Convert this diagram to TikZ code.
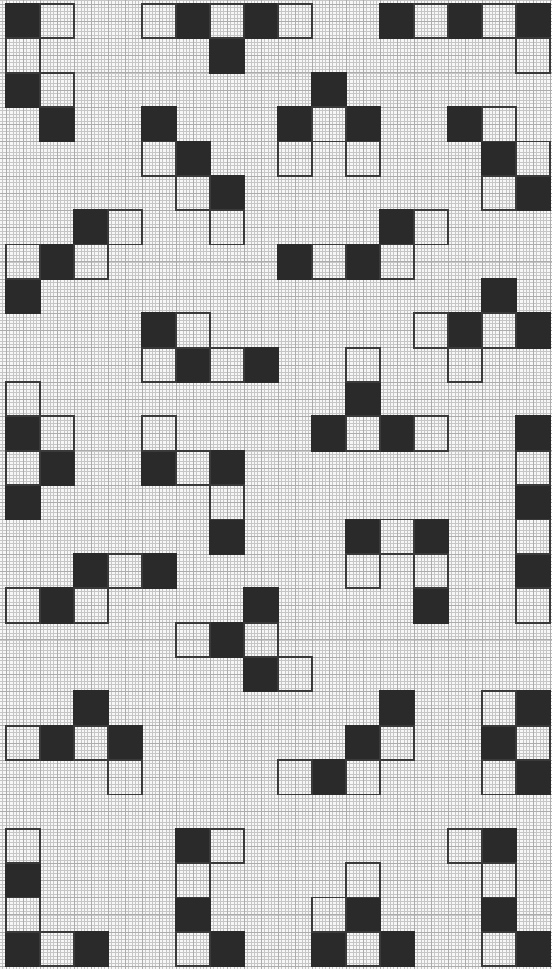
\documentclass[tikz,border=0pt]{standalone}
\usepackage{tikz}
\usepackage{xcolor}
\definecolor{paper}{HTML}{F7F7F7}
\definecolor{ink}{HTML}{2A2A2A}
\definecolor{rule}{HTML}{3A3A3A}

\begin{document}
\begin{tikzpicture}[x=0.85cm, y=-0.859cm,
    fine/.style={draw=gray!45, line width=0.3pt},
    half/.style={draw=gray!65, line width=0.4pt},
    blk/.style={fill=ink, draw=ink, line width=1.3pt},
    wht/.style={draw=rule, line width=1.3pt}]
  \useasboundingbox[fill=paper] (-0.176,-0.116) rectangle (16.03,28.08);
  \foreach \i in {-2,...,161}
    \draw[fine] (\i/10,-0.2) -- (\i/10,28.2);
  \foreach \j in {-2,...,281}
    \draw[fine] (-0.2,\j/10) -- (16.1,\j/10);
  \foreach \i in {0,5,...,160}
    \draw[half] (\i/10,-0.2) -- (\i/10,28.2);
  \foreach \j in {0,5,...,280}
    \draw[half] (-0.2,\j/10) -- (16.1,\j/10);

  % row one
  \foreach \c/\r in {0/0,0/2,1/3} \draw[blk] (\c,\r) rectangle ++(1,1);
  \foreach \c/\r in {1/0,0/1,1/2} \draw[wht] (\c,\r) rectangle ++(1,1);
  \foreach \c/\r in {5/0,7/0,6/1} \draw[blk] (\c,\r) rectangle ++(1,1);
  \foreach \c/\r in {4/0,6/0,8/0} \draw[wht] (\c,\r) rectangle ++(1,1);
  \foreach \c/\r in {11/0,13/0,15/0} \draw[blk] (\c,\r) rectangle ++(1,1);
  \foreach \c/\r in {12/0,14/0,15/1} \draw[wht] (\c,\r) rectangle ++(1,1);
  \foreach \c/\r in {9/2,8/3,10/3} \draw[blk] (\c,\r) rectangle ++(1,1);
  \foreach \c/\r in {9/3,8/4,10/4} \draw[wht] (\c,\r) rectangle ++(1,1);
  \foreach \c/\r in {13/3,14/4,15/5} \draw[blk] (\c,\r) rectangle ++(1,1);
  \foreach \c/\r in {14/3,15/4,14/5} \draw[wht] (\c,\r) rectangle ++(1,1);
  \foreach \c/\r in {4/3,5/4,6/5} \draw[blk] (\c,\r) rectangle ++(1,1);
  \foreach \c/\r in {4/4,5/5,6/6} \draw[wht] (\c,\r) rectangle ++(1,1);

  % row two
  \foreach \c/\r in {2/6,1/7,0/8} \draw[blk] (\c,\r) rectangle ++(1,1);
  \foreach \c/\r in {3/6,0/7,2/7} \draw[wht] (\c,\r) rectangle ++(1,1);
  \foreach \c/\r in {11/6,8/7,10/7} \draw[blk] (\c,\r) rectangle ++(1,1);
  \foreach \c/\r in {12/6,9/7,11/7} \draw[wht] (\c,\r) rectangle ++(1,1);
  \foreach \c/\r in {14/8,13/9,15/9} \draw[blk] (\c,\r) rectangle ++(1,1);
  \foreach \c/\r in {12/9,14/9,13/10} \draw[wht] (\c,\r) rectangle ++(1,1);
  \foreach \c/\r in {4/9,5/10,7/10} \draw[blk] (\c,\r) rectangle ++(1,1);
  \foreach \c/\r in {5/9,4/10,6/10} \draw[wht] (\c,\r) rectangle ++(1,1);
  \foreach \c/\r in {10/11,9/12,11/12} \draw[blk] (\c,\r) rectangle ++(1,1);
  \foreach \c/\r in {10/10,10/12,12/12} \draw[wht] (\c,\r) rectangle ++(1,1);

  % row three
  \foreach \c/\r in {0/12,1/13,0/14} \draw[blk] (\c,\r) rectangle ++(1,1);
  \foreach \c/\r in {0/11,1/12,0/13} \draw[wht] (\c,\r) rectangle ++(1,1);
  \foreach \c/\r in {4/13,6/13,6/15} \draw[blk] (\c,\r) rectangle ++(1,1);
  \foreach \c/\r in {4/12,5/13,6/14} \draw[wht] (\c,\r) rectangle ++(1,1);
  \foreach \c/\r in {15/12,15/14,15/16} \draw[blk] (\c,\r) rectangle ++(1,1);
  \foreach \c/\r in {15/13,15/15,15/17} \draw[wht] (\c,\r) rectangle ++(1,1);
  \foreach \c/\r in {10/15,12/15,12/17} \draw[blk] (\c,\r) rectangle ++(1,1);
  \foreach \c/\r in {11/15,10/16,12/16} \draw[wht] (\c,\r) rectangle ++(1,1);
  \foreach \c/\r in {2/16,4/16,1/17} \draw[blk] (\c,\r) rectangle ++(1,1);
  \foreach \c/\r in {3/16,0/17,2/17} \draw[wht] (\c,\r) rectangle ++(1,1);
  \foreach \c/\r in {7/17,6/18,7/19} \draw[blk] (\c,\r) rectangle ++(1,1);
  \foreach \c/\r in {5/18,7/18,8/19} \draw[wht] (\c,\r) rectangle ++(1,1);

  % row four
  \foreach \c/\r in {2/20,1/21,3/21} \draw[blk] (\c,\r) rectangle ++(1,1);
  \foreach \c/\r in {0/21,2/21,3/22} \draw[wht] (\c,\r) rectangle ++(1,1);
  \foreach \c/\r in {11/20,10/21,9/22} \draw[blk] (\c,\r) rectangle ++(1,1);
  \foreach \c/\r in {11/21,8/22,10/22} \draw[wht] (\c,\r) rectangle ++(1,1);
  \foreach \c/\r in {15/20,14/21,15/22} \draw[blk] (\c,\r) rectangle ++(1,1);
  \foreach \c/\r in {14/20,15/21,14/22} \draw[wht] (\c,\r) rectangle ++(1,1);

  % row five
  \foreach \c/\r in {0/25,0/27,2/27} \draw[blk] (\c,\r) rectangle ++(1,1);
  \foreach \c/\r in {0/24,0/26,1/27} \draw[wht] (\c,\r) rectangle ++(1,1);
  \foreach \c/\r in {5/24,5/26,6/27} \draw[blk] (\c,\r) rectangle ++(1,1);
  \foreach \c/\r in {6/24,5/25,5/27} \draw[wht] (\c,\r) rectangle ++(1,1);
  \foreach \c/\r in {10/26,9/27,11/27} \draw[blk] (\c,\r) rectangle ++(1,1);
  \foreach \c/\r in {10/25,9/26,10/27} \draw[wht] (\c,\r) rectangle ++(1,1);
  \foreach \c/\r in {14/24,14/26,15/27} \draw[blk] (\c,\r) rectangle ++(1,1);
  \foreach \c/\r in {13/24,14/25,14/27} \draw[wht] (\c,\r) rectangle ++(1,1);
\end{tikzpicture}
\end{document}
